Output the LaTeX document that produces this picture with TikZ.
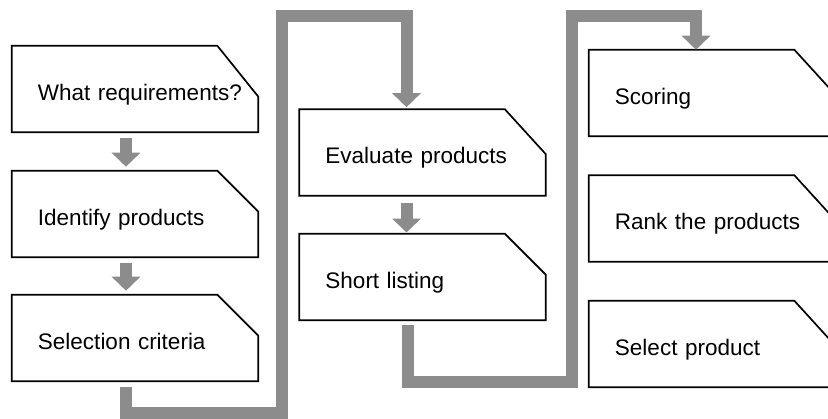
\documentclass[tikz,border=0pt]{standalone}
\usepackage{fontspec}
\setmainfont{Liberation Sans}
\usetikzlibrary{calc,arrows.meta}
\tikzset{
  etape/.style={rectangle, minimum width=6.15cm, minimum height=2.15cm,
    inner xsep=0.65cm, text width=4.85cm, align=left,
    text height=0.55cm, text depth=0cm,
    font=\fontsize{16}{19}\selectfont},
  bord/.style={line width=1.2pt, line join=miter},
  bande/.style={draw=black!45, line width=0.3cm, line join=miter,
    -{Triangle[width=0.7cm,length=0.35cm]}},
}
\begin{document}
\begin{tikzpicture}[x=0.025cm, y=-0.025cm]
    \clip (0,0) rectangle (828,419);

    % Colonne gauche
    \node[etape] (req) at (135,89) {\mbox{What requirements?}};
    \node[etape] (ident) at (135,214) {\mbox{Identify products}};
    \node[etape] (crit) at (135,338) {\mbox{Selection criteria}};

    % Colonne du milieu
    \node[etape] (eval) at (422.5,152.5) {\mbox{Evaluate products}};
    \node[etape] (short) at (422.5,277) {\mbox{Short listing}};

    % Colonne droite
    \node[etape] (score) at (712,93) {\mbox{Scoring}};
    \node[etape] (rank) at (712,218.5) {\mbox{Rank the products}};
    \node[etape] (select) at (712,344) {\mbox{Select product}};

    % Contours (coin coupe)
    \foreach \n/\d in {req/51,ident/41,crit/41,eval/45,short/41,score/45,rank/45,select/45}
        \draw[bord] (\n.north west) -- ($(\n.north east)+(-41,0)$)
            -- ($(\n.north east)+(0,\d)$) -- (\n.south east)
            -- (\n.south west) -- cycle;

    % Petites fleches
    \draw[bande, shorten <=0.15cm, shorten >=0.1cm] ($(req.south)+(-9,0)$) -- ($(ident.north)+(-9,0)$);
    \draw[bande, shorten <=0.15cm, shorten >=0.1cm] ($(ident.south)+(-9,0)$) -- ($(crit.north)+(-9,0)$);
    \draw[bande, shorten <=0.18cm, shorten >=0.03cm] ($(eval.south)+(-16,0)$) -- ($(short.north)+(-16,0)$);

    % Bandes de liaison
    \coordinate (bas1) at (281.5,413);
    \coordinate (haut1) at (281.5,16);
    \draw[bande] ($(crit.south)+(-9,6)$) |- (bas1) -- (haut1) -| ($(eval.north)+(-16,-2)$);
    \coordinate (bas2) at (572,382);
    \coordinate (haut2) at (572,16);
    \draw[bande] ($(short.south)+(-15,5)$) |- (bas2) -- (haut2) -| (score.north -| 696,0);
\end{tikzpicture}
\end{document}
